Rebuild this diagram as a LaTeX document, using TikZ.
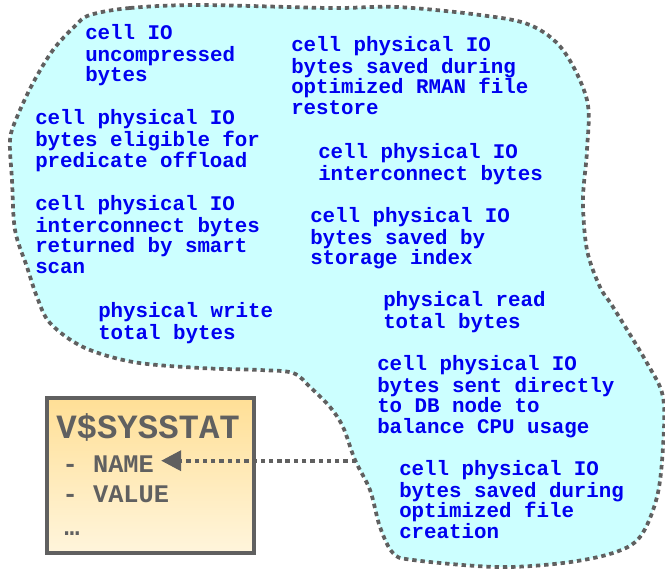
\documentclass[tikz,border=0pt]{standalone}
\usepackage{fontspec}
\newfontfamily\mono{Liberation Mono}
\usetikzlibrary{arrows.meta,calc}
\definecolor{blobfill}{RGB}{204,255,255}
\definecolor{edgegrey}{RGB}{96,96,96}
\definecolor{txtblue}{RGB}{0,0,240}
\definecolor{boxtop}{RGB}{255,223,150}
\definecolor{boxbot}{RGB}{255,245,220}
\begin{document}
\begin{tikzpicture}[x=0.75pt,y=-0.75pt,
  blob/.style={fill=blobfill,draw=edgegrey,line width=2.8pt,dash pattern=on 3.3pt off 2.9pt},
  lbl/.style={font=\mono\bfseries\fontsize{15.6}{15.3}\selectfont,text=txtblue,align=left,anchor=north west,inner sep=0pt},
  sysbox/.style={draw=edgegrey,line width=3pt,top color=boxtop,bottom color=boxbot,anchor=north west,inner sep=0pt,minimum width=155.25pt,minimum height=116.25pt},
  title/.style={font=\mono\bfseries\fontsize{25.5}{25.5}\selectfont,text=edgegrey,anchor=base west,inner sep=0pt},
  field/.style={font=\mono\bfseries\fontsize{19}{19}\selectfont,text=edgegrey,anchor=base west,inner sep=0pt},
  conn/.style={draw=edgegrey,line width=2.8pt,dash pattern=on 3.3pt off 2.9pt,-{Triangle[length=15pt,width=15pt]}}]
\useasboundingbox (0,0) rectangle (665,571);
% blob
\path[blob] plot[smooth cycle,tension=0.55] coordinates {
 (90,15) (130,8) (200,5) (330,8) (397,7) (480,15) (530,25) (563,50) (587,100) (587,150)
 (583,200) (587,250) (600,287) (613,307) (647,363) (663,397) (663,447) (657,497)
 (640,537) (613,553) (563,563) (497,567) (413,560) (393,553) (380,527) (370,490)
 (355,460) (343,427) (330,407) (310,387) (293,373) (260,370) (200,368) (133,362)
 (83,347) (50,323) (37,297) (27,267) (15,230) (12,180) (10,140) (17,117) (33,83) (53,50) (75,26)};
\coordinate (blobpt) at (356,460.7);
% labels
\node[lbl] (t1) at (85,23.7) {\strut cell IO\\uncompressed\\bytes};
\node[lbl] (t2) at (291,35.7) {\strut cell physical IO\\bytes saved during\\optimized RMAN file\\restore};
\node[lbl] (t3) at (35,108.7) {\strut cell physical IO\\bytes eligible for\\predicate offload};
\node[lbl] (t4) at (318,142.7) {\strut cell physical IO\\interconnect bytes};
\node[lbl] (t5) at (35,194.7) {\strut cell physical IO\\interconnect bytes\\returned by smart\\scan};
\node[lbl] (t6) at (310,206.7) {\strut cell physical IO\\bytes saved by\\storage index};
\node[lbl] (t7) at (98,301.7) {\strut physical write\\total bytes};
\node[lbl] (t8) at (383,290.7) {\strut physical read\\total bytes};
\node[lbl] (t9) at (377,354.7) {\strut cell physical IO\\bytes sent directly\\to DB node to\\balance CPU usage};
\node[lbl] (t10) at (399,459.7) {\strut cell physical IO\\bytes saved during\\optimized file\\creation};
% box
\node[sysbox] (box) at (45,396) {};
\node[title] (ttl) at (56,438) {V\$SYSSTAT};
\node[field] (name) at (62.4,472.3) {- NAME};
\node[field] (value) at (62.4,502.3) {- VALUE};
\node[field] (dots) at (64,535.7) {…};
\coordinate (tip) at ($(name.east |- blobpt)+(7,0)$);
\draw[conn] (blobpt) -- (tip);
\end{tikzpicture}
\end{document}
